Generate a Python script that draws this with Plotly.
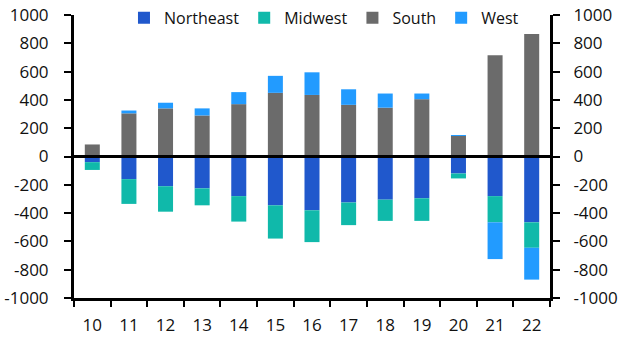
import plotly.graph_objects as go

categories = ["10", "11", "12", "13", "14", "15", "16", "17", "18", "19", "20", "21", "22"]
northeast = [-40, -160, -210, -225, -280, -345, -380, -325, -305, -295, -120, -280, -465]
midwest = [-55, -175, -180, -120, -180, -235, -225, -160, -150, -160, -35, -185, -180]
south = [85, 305, 340, 290, 370, 450, 435, 365, 345, 405, 145, 715, 865]
west = [0, 20, 40, 50, 85, 120, 160, 110, 100, 40, 5, -260, -225]

ytick_vals = [-1000, -800, -600, -400, -200, 0, 200, 400, 600, 800, 1000]
ytick_text = ["-1000", "-800", "-600", "-400", "-200", "0", "200", "400", "600", "800", "1000"]

colors = {"Northeast": "#2058CC", "Midwest": "#10B9AA", "South": "#6B6B6B", "West": "#229BFF"}
FONT = "Open Sans"
FS = 17
TXT = "#111111"

fig = go.Figure()
for name, vals in [("Northeast", northeast), ("Midwest", midwest), ("South", south), ("West", west)]:
    fig.add_trace(go.Bar(x=categories, y=vals, name=name, marker=dict(color=colors[name], line=dict(width=0))))

# invisible trace to anchor the right-hand axis
fig.add_trace(go.Scatter(x=categories, y=south, yaxis="y2", mode="lines", line=dict(width=0),
                         opacity=0, showlegend=False, hoverinfo="skip"))

axis_common = dict(
    range=[-1000, 1000], tickvals=ytick_vals, ticktext=ytick_text,
    showgrid=False, zeroline=False, showline=True, linecolor="black", linewidth=3,
    ticks="outside", ticklen=7, tickwidth=2, tickcolor="black",
    tickfont=dict(family=FONT, size=FS, color=TXT), fixedrange=True,
)

fig.update_layout(
    width=631, height=349,
    margin=dict(l=74, r=81, t=15, b=51, autoexpand=False),
    barmode="relative", bargap=0.59,
    paper_bgcolor="white", plot_bgcolor="white",
    font=dict(family=FONT, size=FS, color=TXT),
    xaxis=dict(type="category", showgrid=False, zeroline=False, showline=True, linecolor="black",
               linewidth=3, ticks="outside", tickson="boundaries", ticklen=6, tickwidth=2,
               tickcolor="black", tickfont=dict(family=FONT, size=FS, color=TXT),
               ticklabelstandoff=10, automargin=False),
    yaxis=dict(side="left", ticklabelstandoff=12, automargin=False, **axis_common),
    yaxis2=dict(side="right", overlaying="y", anchor="x", ticklabelstandoff=10, automargin=False,
                **axis_common),
    legend=dict(orientation="h", x=0.105, xanchor="left", y=0.99, yanchor="middle",
                bgcolor="rgba(0,0,0,0)", font=dict(family=FONT, size=16, color=TXT),
                itemwidth=30, tracegroupgap=0, traceorder="normal"),
    shapes=[dict(type="line", xref="paper", x0=0, x1=1, yref="y", y0=0, y1=0,
                 line=dict(color="black", width=3), layer="above")],
    showlegend=True,
)

fig.write_html("out.html")
